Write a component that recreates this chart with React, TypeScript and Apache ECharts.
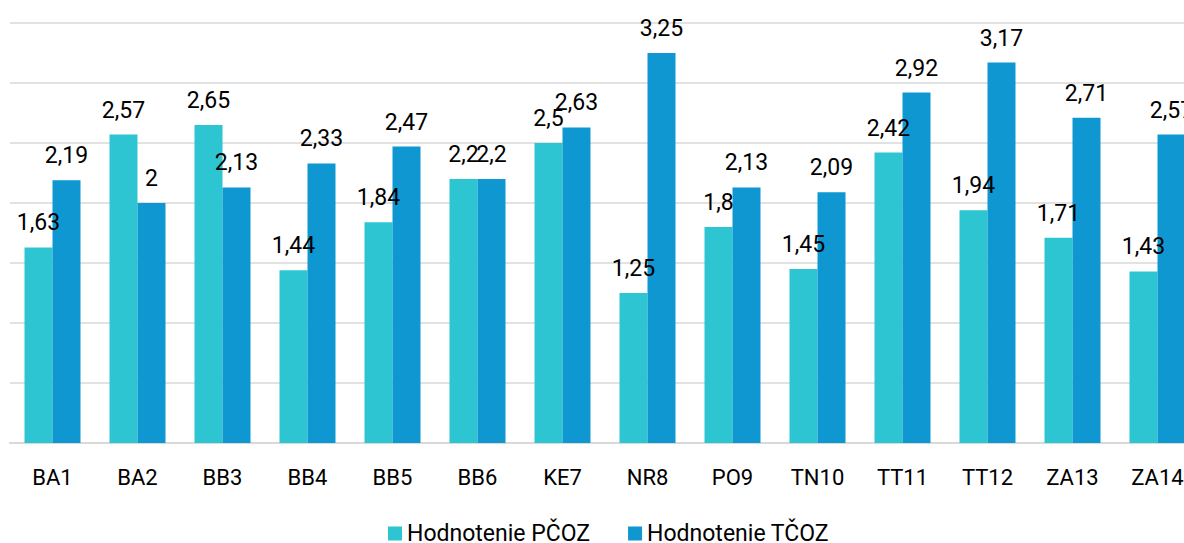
import React, { useEffect, useRef } from "react";
import * as echarts from "echarts";

const categories = ["BA1", "BA2", "BB3", "BB4", "BB5", "BB6", "KE7", "NR8", "PO9", "TN10", "TT11", "TT12", "ZA13", "ZA14"];
const pcozValues = [1.63, 2.57, 2.65, 1.44, 1.84, 2.2, 2.5, 1.25, 1.8, 1.45, 2.42, 1.94, 1.71, 1.43];
const tcozValues = [2.19, 2, 2.13, 2.33, 2.47, 2.2, 2.63, 3.25, 2.13, 2.09, 2.92, 3.17, 2.71, 2.57];
const seriesNames = ["Hodnotenie PČOZ", "Hodnotenie TČOZ"];

const fmt = (v: number) => String(v).replace(".", ",");

export default function App() {
  const ref = useRef<HTMLDivElement>(null);
  useEffect(() => {
    if (!ref.current) return;
    const chart = echarts.init(ref.current, undefined, { renderer: "svg" });
    const font = "Roboto";
    const labelCfg = {
      show: true,
      position: "top" as const,
      distance: 13,
      fontSize: 23,
      fontFamily: font,
      color: "#000",
      formatter: (p: any) => fmt(p.value),
    };
    chart.setOption({
      animation: false,
      grid: { left: 10, top: 23, width: 1190, height: 420, containLabel: false },
      legend: {
        data: seriesNames,
        left: 383,
        top: 517,
        itemWidth: 14,
        itemHeight: 14,
        itemGap: 38,
        icon: "rect",
        textStyle: { fontSize: 23, fontFamily: font, color: "#000" },
      },
      xAxis: {
        type: "category",
        data: categories,
        axisLine: { lineStyle: { color: "#d9d9d9", width: 2 } },
        axisTick: { show: false },
        axisLabel: { fontSize: 22, fontFamily: font, color: "#000", margin: 23 },
      },
      yAxis: {
        type: "value",
        min: 0,
        max: 3.5,
        interval: 0.5,
        axisLabel: { show: false },
        axisLine: { show: false },
        axisTick: { show: false },
        splitLine: { lineStyle: { color: "#d9d9d9", width: 1.5 } },
      },
      series: [
        {
          name: seriesNames[0],
          type: "bar",
          data: pcozValues,
          barWidth: 28,
          barGap: "0%",
          itemStyle: { color: "#2EC5D2" },
          label: labelCfg,
        },
        {
          name: seriesNames[1],
          type: "bar",
          data: tcozValues,
          barWidth: 28,
          barGap: "0%",
          itemStyle: { color: "#0E97D0" },
          label: labelCfg,
        },
      ],
    });
    return () => chart.dispose();
  }, []);
  return (
    <div style={{ position: "fixed", left: 0, top: 0, width: 1184, height: 543, overflow: "hidden", background: "#fff" }}>
      <div ref={ref} style={{ width: 1210, height: 543 }} />
    </div>
  );
}
